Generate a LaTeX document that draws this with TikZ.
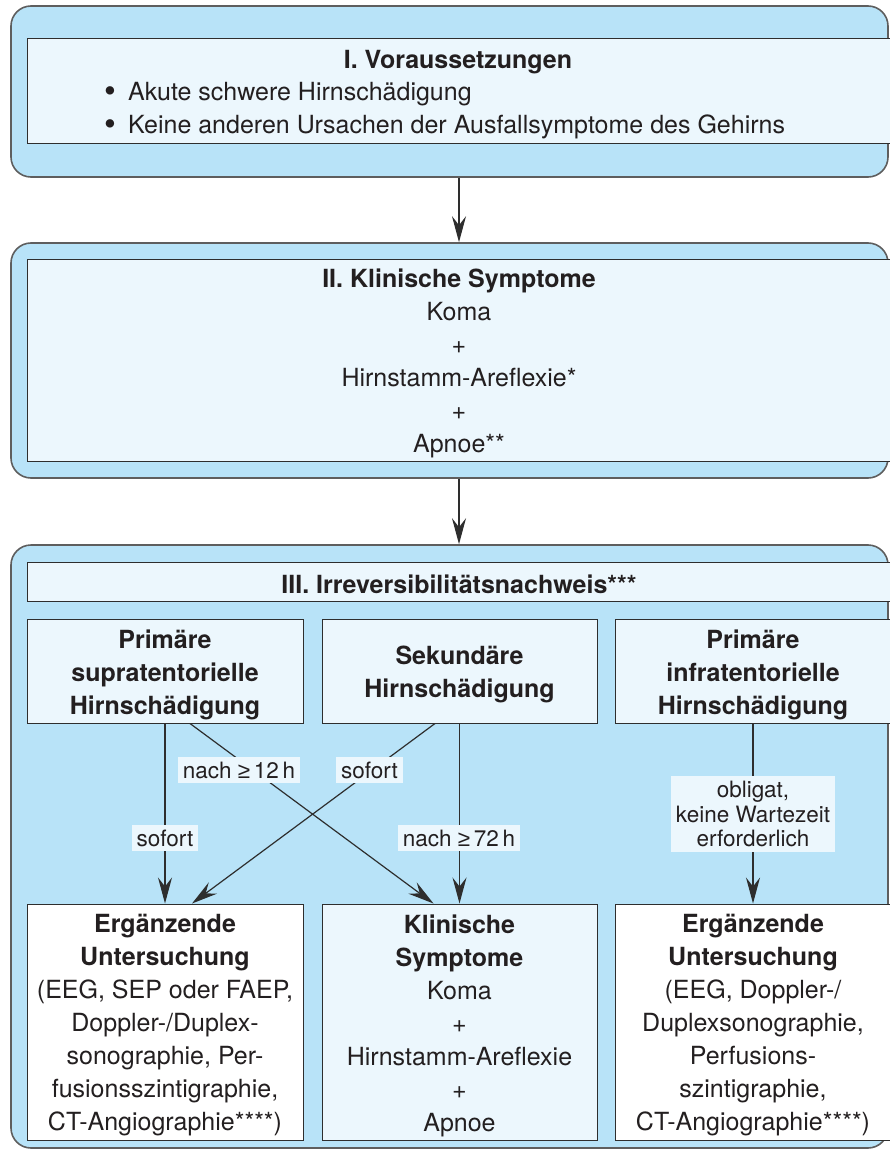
\documentclass[tikz,border=0pt]{standalone}
\usepackage{fontspec}
\setmainfont{TeX Gyre Heros}
\newfontfamily\symf{Liberation Sans}
\usetikzlibrary{arrows.meta,calc}
\definecolor{outerfill}{HTML}{B8E3F8}
\definecolor{innerfill}{HTML}{ECF7FD}
\definecolor{outerline}{HTML}{5E5E5E}
\definecolor{innerline}{HTML}{2E2E2E}
\definecolor{txt}{HTML}{231F20}
\newcommand{\mainsize}{\fontsize{25}{33}\selectfont}
\newcommand{\lblsize}{\fontsize{22.5}{24.5}\selectfont}
\newcommand{\gex}{{\symf ≥}}
\newcommand{\bul}{\makebox[24pt][l]{\raisebox{-1.5pt}{\scalebox{1.35}{•}}}}
\begin{document}
\begin{tikzpicture}[x=1pt,y=-1pt,
  every node/.style={text=txt, font=\mainsize},
  outerbox/.style={draw=outerline, fill=outerfill, line width=1.6pt, rounded corners=20pt, inner sep=0pt},
  innerbox/.style={draw=innerline, fill=innerfill, line width=1pt, inner sep=0pt},
  whitebox/.style={innerbox, fill=white},
  boxtext/.style={align=center, inner sep=0pt, yshift=-3.5pt},
  lbl/.style={fill=innerfill, inner xsep=5pt, inner ysep=4pt, minimum height=26pt, font=\lblsize, align=center},
  arr/.style={draw=innerline, line width=1.2pt, -{Stealth[length=26pt,width=14pt,inset=9pt]}}]
\useasboundingbox (0,0) rectangle (890,1150);
\clip (0,0) rectangle (890,1150);

% outer boxes
\node[outerbox, minimum width=877pt, minimum height=171pt] (oI) at (449.5,91.5) {};
\node[outerbox, minimum width=877pt, minimum height=235pt] (oII) at (449.5,360.5) {};
\node[outerbox, minimum width=877pt, minimum height=603pt] (oIII) at (449.5,846.5) {};

% box I
\node[innerbox, minimum width=864pt, minimum height=105pt] (iI) at (459,91.5) {};
\node[anchor=base] (tI) at (458,68.5) {\bfseries I. Voraussetzungen};
\node[anchor=base west, inner sep=0pt] (b1) at (104,101) {\bul Akute schwere Hirnschädigung};
\node[anchor=base west, inner sep=0pt] (b2) at (104,134) {\bul Keine anderen Ursachen der Ausfallsymptome des Gehirns};

% box II
\node[innerbox, minimum width=864pt, minimum height=202pt] (iII) at (459,360) {};
\node[boxtext] (xII) at (iII.center)
  {\bfseries II. Klinische Symptome\\Koma\\+\\Hirnstamm-Areflexie*\\+\\Apnoe**};

% box III
\node[innerbox, minimum width=864pt, minimum height=39pt] (tIII) at (459,581.5) {};
\node[boxtext, yshift=1pt] (xIII) at (tIII.center) {\bfseries III. Irreversibilitätsnachweis***};

\node[innerbox, minimum width=276pt, minimum height=104pt] (sL) at (165,671) {};
\node[boxtext] (xsL) at (sL.center)
  {\bfseries Primäre\\\bfseries supratentorielle\\\bfseries Hirnschädigung};
\node[innerbox, minimum width=275pt, minimum height=104pt] (sM) at (459.5,671) {};
\node[boxtext] (xsM) at (sM.center)
  {\bfseries Sekundäre\\\bfseries Hirnschädigung};
\node[innerbox, minimum width=276pt, minimum height=104pt] (sR) at (753,671) {};
\node[boxtext] (xsR) at (sR.center)
  {\bfseries Primäre\\\bfseries infratentorielle\\\bfseries Hirnschädigung};

\node[whitebox, minimum width=276pt, minimum height=236pt] (bL) at (165,1022) {};
\node[boxtext] (xbL) at (bL.center)
  {\bfseries Ergänzende\\\bfseries Untersuchung\\(EEG, SEP oder FAEP,\\Doppler-/Duplex-\\sonographie, Per-\\fusionsszintigraphie,\\CT-Angiographie****)};
\node[innerbox, minimum width=275pt, minimum height=236pt] (bM) at (459.5,1022) {};
\node[boxtext] (xbM) at (bM.center)
  {\bfseries Klinische\\\bfseries Symptome\\Koma\\+\\Hirnstamm-Areflexie\\+\\Apnoe};
\node[whitebox, minimum width=276pt, minimum height=236pt] (bR) at (753,1022) {};
\node[boxtext] (xbR) at (bR.center)
  {\bfseries Ergänzende\\\bfseries Untersuchung\\(EEG, Doppler-/\\Duplexsonographie,\\Perfusions-\\szintigraphie,\\CT-Angiographie****)};

% connectors
\draw[arr] ($(oI.south)+(9.5,0)$) -- ($(oII.north)+(9.5,0)$);
\draw[arr] ($(oII.south)+(9.5,0)$) -- ($(oIII.north)+(9.5,0)$);
\draw[arr] (sL.south) -- (bL.north);
\draw[arr] ($(sL.south)+(25,0)$) -- ($(bM.north)+(-26,0)$);
\draw[arr] ($(sM.south)+(-24.5,0)$) -- ($(bL.north)+(27,0)$);
\draw[arr] (sM.south) -- (bM.north);
\draw[arr] (sR.south) -- (bR.north);

% labels
\node[lbl] (l1) at (165,838) {sofort};
\node[lbl] (l2) at (239,770) {nach \gex\,12\,h};
\node[lbl] (l3) at (369.5,770) {sofort};
\node[lbl] (l4) at (459,838) {nach \gex\,72\,h};
\node[lbl, inner ysep=5pt] (l5) at (753,814) {obligat,\\keine Wartezeit\\erforderlich};
\end{tikzpicture}
\end{document}
